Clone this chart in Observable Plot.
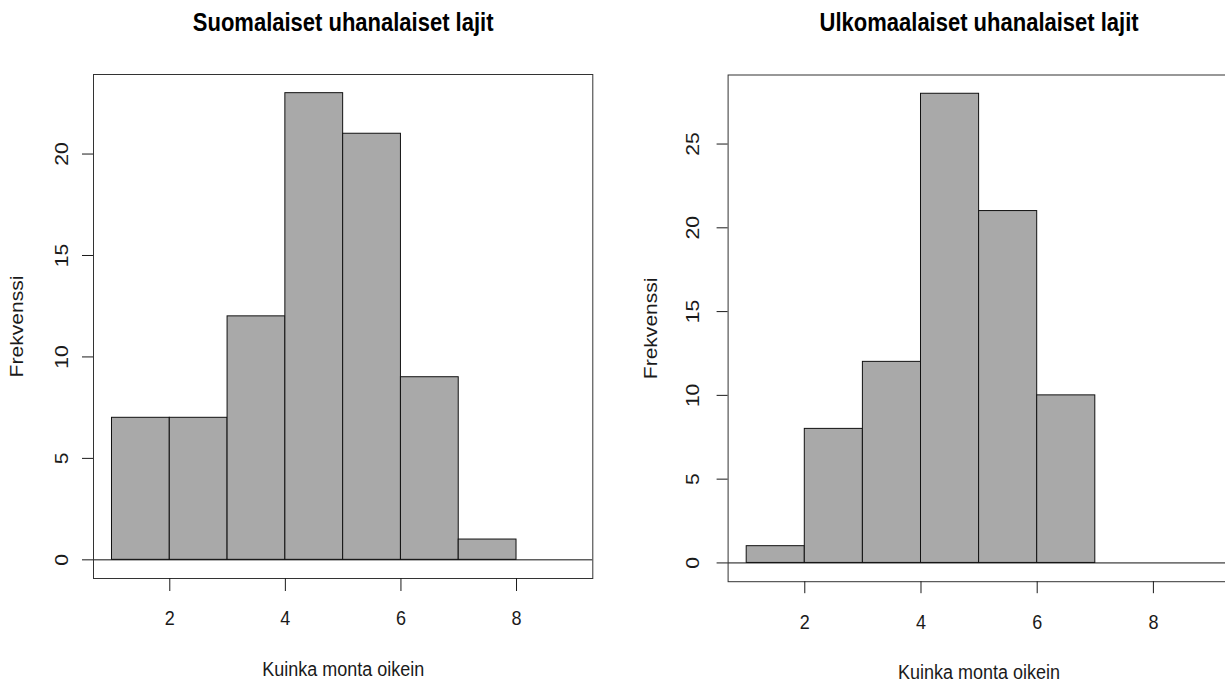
<!DOCTYPE html>
<html>
<head>
<meta charset="utf-8">
<script src="https://cdn.jsdelivr.net/npm/d3@7"></script>
<script src="https://cdn.jsdelivr.net/npm/@observablehq/plot@0.6"></script>
<style>
  html, body { margin: 0; padding: 0; background: white; overflow: hidden; }
  #wrap { display: flex; width: 1225px; height: 684px; }
  #left { width: 612px; height: 684px; overflow: hidden; flex: none; }
  #right { width: 613px; height: 684px; overflow: hidden; flex: none; }
  #wrap svg { display: block; max-width: none !important; }
</style>
</head>
<body>
<div id="wrap"><div id="left"></div><div id="right"></div></div>
<script>
// ---- data ----
const binStarts = [1, 2, 3, 4, 5, 6, 7];
const binEnds = [2, 3, 4, 5, 6, 7, 8];
const countsFinnish = [7, 7, 12, 23, 21, 9, 1];
const countsForeign = [1, 8, 12, 28, 21, 10, 0];
const xTicks = [2, 4, 6, 8];
const yTicksFinnish = [0, 5, 10, 15, 20];
const yTicksForeign = [0, 5, 10, 15, 20, 25];
const xLimits = [1, 9];
const titleFinnish = "Suomalaiset uhanalaiset lajit";
const titleForeign = "Ulkomaalaiset uhanalaiset lajit";
const xLabel = "Kuinka monta oikein";
const yLabel = "Frekvenssi";

const FONT = "'Liberation Sans', Arial, Helvetica, sans-serif";

function rExtend([a, b]) { const d = (b - a) * 0.04; return [a - d, b + d]; }

function panel(counts, yTicks, title, L) {
  const bins = binStarts.map((s, i) => ({x1: s, x2: binEnds[i], n: counts[i]}));
  const yDom = rExtend([0, d3.max(counts)]);
  const txt = {fontSize: 18, fill: "#1a1a1a", textAnchor: "middle", lineAnchor: "middle"};
  return Plot.plot({
    width: L.width, height: 684,
    marginLeft: L.ml, marginRight: L.mr, marginTop: L.mt, marginBottom: L.mb,
    style: {fontFamily: FONT, fontSize: "18px", background: "white", color: "#1a1a1a", overflow: "visible", maxWidth: "none"},
    x: {domain: rExtend(xLimits)},
    y: {domain: yDom},
    marks: [
      Plot.rectY(bins, {x1: "x1", x2: "x2", y: "n", fill: "#A9A9A9", stroke: "#111", strokeWidth: 1, inset: 0}),
      Plot.ruleY([0], {stroke: "#111", strokeWidth: 1}),
      Plot.frame({stroke: "#333", strokeWidth: 1}),
      Plot.axisX({ticks: xTicks, tickSize: L.xTick, tickFormat: () => "", label: null}),
      Plot.axisY({ticks: yTicks, tickSize: L.yTick, tickFormat: () => "", label: null}),
      Plot.text(xTicks, {x: d => d, frameAnchor: "bottom", dy: L.xLabDy, text: d => String(d), ...txt}),
      Plot.text(yTicks, {y: d => d, frameAnchor: "left", dx: L.yLabDx, rotate: -90, text: d => String(d), ...txt}),
      Plot.text([title], {frameAnchor: "top", dy: L.titleDy, ...txt, fontSize: 22, fontWeight: "bold", fill: "#000"}),
      Plot.text([xLabel], {frameAnchor: "bottom", dy: L.xTitleDy, ...txt}),
      Plot.text([yLabel], {frameAnchor: "left", dx: L.yTitleDx, rotate: -90, ...txt})
    ]
  });
}

function stretchText(svg, s) {
  const svgRect = svg.getBoundingClientRect();
  Array.from(svg.querySelectorAll("text")).forEach(t => {
    if (!t.textContent) return;
    const r = t.getBoundingClientRect();
    const cy = r.top + r.height / 2 - svgRect.top;
    const parent = t.parentNode;
    const m = parent.getCTM ? parent.getCTM() : null;
    const ly = m ? (cy - m.f) / (m.d || 1) : cy;
    const g = document.createElementNS("http://www.w3.org/2000/svg", "g");
    g.setAttribute("transform", `translate(0,${ly}) scale(1,${s}) translate(0,${-ly})`);
    parent.insertBefore(g, t);
    g.appendChild(t);
  });
}

const left = panel(countsFinnish, yTicksFinnish, titleFinnish, {
  width: 612, ml: 93, mr: 19.7, mt: 74, mb: 106,
  xTick: 13, yTick: 11, xLabDy: 40, yLabDx: -31.5, titleDy: -52, xTitleDy: 91, yTitleDx: -76
});
const right = panel(countsForeign, yTicksForeign, titleForeign, {
  width: 618, ml: 115.6, mr: 0.4, mt: 74.5, mb: 102.8,
  xTick: 12, yTick: 11, xLabDy: 40.5, yLabDx: -35, titleDy: -52.5, xTitleDy: 90.5, yTitleDx: -76.6
});
document.getElementById("left").appendChild(left);
document.getElementById("right").appendChild(right);
stretchText(left, 1.17);
stretchText(right, 1.17);
</script>
</body>
</html>
